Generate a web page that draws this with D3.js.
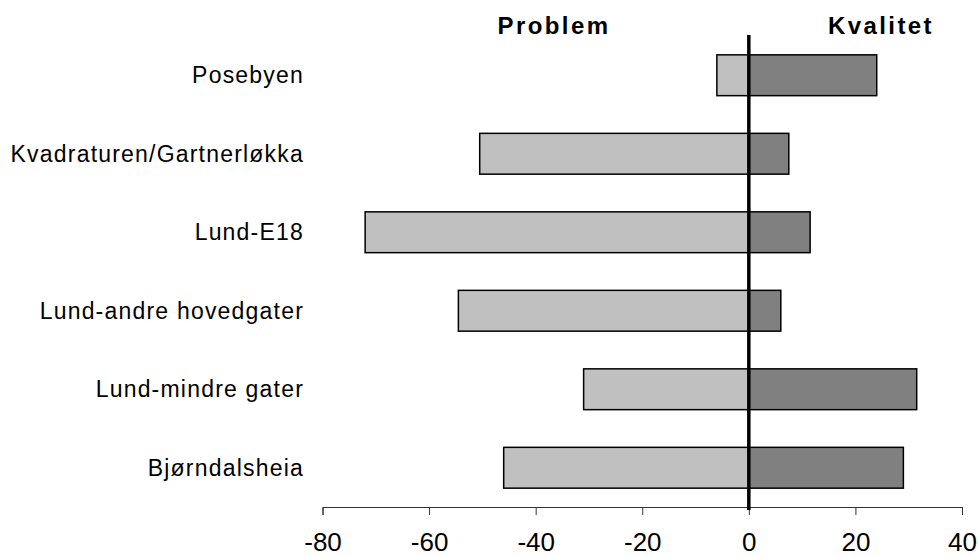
<!DOCTYPE html>
<html>
<head>
<meta charset="utf-8">
<script src="https://cdn.jsdelivr.net/npm/d3@7"></script>
<style>
  body { margin: 0; background: #fff; }
  svg { display: block; }
</style>
</head>
<body>
<script>
// data
var areas = ["Posebyen", "Kvadraturen/Gartnerløkka", "Lund-E18", "Lund-andre hovedgater", "Lund-mindre gater", "Bjørndalsheia"];
var problem = [-6, -50.5, -72, -54.5, -31, -46];
var kvalitet = [24, 7.5, 11.5, 6, 31.5, 29];
var tickValues = [-80, -60, -40, -20, 0, 20, 40];

var width = 979, height = 557;

var svg = d3.select("body").append("svg")
    .attr("width", width)
    .attr("height", height);

var x = d3.scaleLinear()
    .domain([-80, 40])
    .range([322.5, 962]);

var y = d3.scaleBand()
    .domain(areas)
    .range([36, 507])
    .paddingInner(0.48)
    .paddingOuter(0.24);

var rows = areas.map(function(a, i) {
    return { name: a, problem: problem[i], kvalitet: kvalitet[i] };
});

// problem bars (negative side)
svg.selectAll(".bar-problem")
    .data(rows)
    .enter().append("rect")
    .attr("class", "bar-problem")
    .attr("x", function(d) { return x(d.problem); })
    .attr("y", function(d) { return y(d.name); })
    .attr("width", function(d) { return x(0) - x(d.problem); })
    .attr("height", y.bandwidth())
    .attr("fill", "#c0c0c0")
    .attr("stroke", "#000")
    .attr("stroke-width", 1.5);

// kvalitet bars (positive side)
svg.selectAll(".bar-kvalitet")
    .data(rows)
    .enter().append("rect")
    .attr("class", "bar-kvalitet")
    .attr("x", x(0))
    .attr("y", function(d) { return y(d.name); })
    .attr("width", function(d) { return x(d.kvalitet) - x(0); })
    .attr("height", y.bandwidth())
    .attr("fill", "#808080")
    .attr("stroke", "#000")
    .attr("stroke-width", 1.5);

// x axis, plain hyphen for negatives like the original
var xAxis = d3.axisBottom(x)
    .tickValues(tickValues)
    .tickFormat(function(d) { return String(d); })
    .tickSize(8)
    .tickPadding(18);

var gx = svg.append("g")
    .attr("transform", "translate(0,507)")
    .call(xAxis);

gx.select(".domain").attr("stroke", "#333");
gx.selectAll(".tick line").attr("stroke", "#333");
gx.selectAll(".tick text")
    .attr("font-family", "Liberation Sans, Arial, sans-serif")
    .attr("font-size", 26)
    .attr("fill", "#000");

// zero line
svg.append("line")
    .attr("x1", x(0)).attr("x2", x(0))
    .attr("y1", 35).attr("y2", 510)
    .attr("stroke", "#000")
    .attr("stroke-width", 3.5);

// category labels
svg.selectAll(".label")
    .data(areas)
    .enter().append("text")
    .attr("class", "label")
    .attr("x", 304)
    .attr("y", function(d) { return y(d) + y.bandwidth() / 2; })
    .attr("dy", "0.35em")
    .attr("text-anchor", "end")
    .attr("font-family", "Liberation Sans, Arial, sans-serif")
    .attr("font-size", 23)
    .attr("letter-spacing", 1.2)
    .attr("fill", "#000")
    .text(function(d) { return d; });

// headers
svg.append("text")
    .attr("x", 554)
    .attr("y", 34)
    .attr("text-anchor", "middle")
    .attr("font-family", "Liberation Sans, Arial, sans-serif")
    .attr("font-weight", "bold")
    .attr("font-size", 24)
    .attr("letter-spacing", 2.4)
    .text("Problem");

svg.append("text")
    .attr("x", 881)
    .attr("y", 34)
    .attr("text-anchor", "middle")
    .attr("font-family", "Liberation Sans, Arial, sans-serif")
    .attr("font-weight", "bold")
    .attr("font-size", 24)
    .attr("letter-spacing", 2.4)
    .text("Kvalitet");
</script>
</body>
</html>
